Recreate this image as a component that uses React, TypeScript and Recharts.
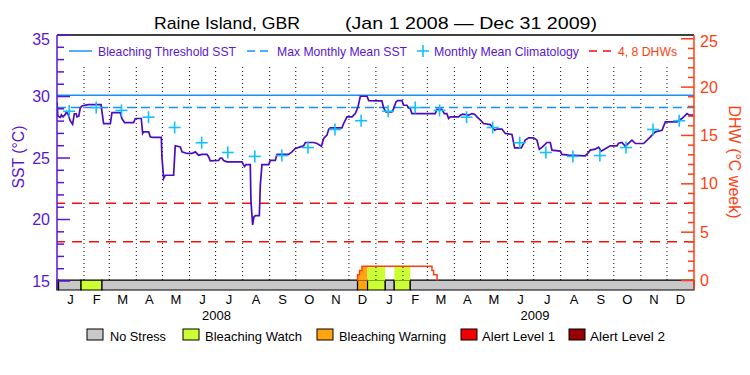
import React from "react";
import {
  ComposedChart,
  Line,
  Area,
  XAxis,
  YAxis,
  ReferenceLine,
  ReferenceArea,
} from "recharts";

const monthLetters = ["J", "F", "M", "A", "M", "J", "J", "A", "S", "O", "N", "D"];
const years = [2008, 2009];

// monthly mean climatology (same for both years), max = MMM
const climatology = [28.8, 29.1, 28.87, 28.32, 27.48, 26.24, 25.45, 25.13, 25.2, 25.85, 27.32, 28.03];
const MMM = 29.1;
const dhwLevels = [4, 8];

// SST, day index from Jan 1 2008
const sstDays = [
  0, 1, 4, 5, 7, 9, 11, 13, 15, 17.9, 19.9, 22, 23, 25, 26.7, 28.6, 33, 36, 50.5, 53.5,
  61.2, 63.1, 72.6, 74.5, 77.6, 87.9, 89.9, 96.7, 98.3, 99.4, 105.1, 107, 109.7, 119.7, 120.4,
  122.4, 124.3, 133.8, 135.7, 141.5, 143.4, 149.1, 154.9, 158.7, 162.5, 166.3, 172.1, 174, 175.9,
  185.4, 187.4, 189.3, 191.2, 195, 212.3, 214.2, 215.3, 216.9, 221.8, 222.6, 224.5, 226, 227.6,
  232.2, 233.3, 235.2, 242.9, 244.8, 250.5, 252.4, 265.8, 269.6, 273.5, 279.2, 283.1, 285, 294.6,
  298.4, 303.4, 306, 309.8, 311.7, 313.6, 327, 328.9, 332.8, 338.5, 342.3, 345.4, 348.1, 355.8,
  357.7, 372.9, 374.8, 377.5, 384.3, 386.3, 389, 390.9, 395.9, 397.7, 401.6, 403.5, 405.4, 407.3,
  434.1, 436, 441.7, 444.4, 447.4, 449.4, 451.3, 460.9, 462.8, 465.5, 472.3, 476.2, 479.2, 481.9,
  485.7, 489.5, 497.2, 502.2, 504.8, 510.6, 514.4, 522.1, 525.2, 532.8, 537.4, 541.3, 547, 550.8,
  553.5, 557.2, 562.2, 566.1, 568, 577.5, 579.4, 587.1, 606.2, 609.3, 611.9, 617.7, 621.5, 624.6,
  629.2, 634.9, 642.6, 644.5, 648.3, 652.2, 659.8, 663.7, 673.2, 681, 686.6, 694.3, 698.1, 711.5,
  714.2, 717.2, 723, 725.6, 730,
];
const sstValues = [
  29.5, 28.4, 28.3, 28.5, 28.35, 28.5, 28.75, 28.5, 28.05, 27.75, 28.6, 28.6, 28.35, 28.4, 29.07, 29.23, 29.3, 29.34, 29.34, 27.8,
  27.8, 28.69, 28.69, 28.2, 27.88, 27.88, 28.21, 28.21, 27.0, 27.13, 27.13, 26.72, 26.67, 26.67, 25.1,
  23.34, 23.6, 23.6, 26.0, 25.9, 25.5, 25.37, 25.37, 25.5, 25.23, 25.3, 25.29, 25.1, 24.77,
  24.8, 25.0, 25.0, 24.8, 24.69, 24.69, 24.42, 24.31, 24.47, 24.47, 21.45, 19.56, 20.23, 20.31,
  20.31, 22.8, 24.47, 24.47, 24.8, 24.8, 25.29, 25.29, 25.5, 25.78, 25.91, 26.0, 26.26, 26.26,
  26.18, 25.96, 26.59, 26.86, 27.32, 27.45, 27.45, 27.8, 28.34, 28.34, 28.61, 29.15, 30.02, 30.02,
  29.67, 29.64, 29.07, 28.75, 28.75, 29.02, 29.56, 29.67, 29.67, 29.29, 29.29, 29.07, 29.0, 28.61,
  28.61, 28.96, 28.96, 28.61, 28.61, 28.21, 28.34, 28.34, 28.48, 28.56, 28.48, 28.61, 28.56, 28.34,
  28.1, 27.8, 27.72, 27.26, 27.35, 27.35, 27.0, 26.91, 25.83, 25.83, 26.45, 26.64, 26.64, 26.45,
  25.7, 25.9, 26.26, 26.26, 25.64, 25.56, 25.29, 25.23, 25.18, 25.4, 25.64, 25.72, 25.88, 25.56,
  25.75, 25.99, 25.99, 26.2, 26.26, 25.96, 26.45, 26.18, 26.18, 26.72, 27.13, 27.26, 27.94, 27.94,
  28.1, 28.21, 28.61, 28.48, 28.48,
];

// degree heating weeks
const dhwDays = [344.5, 344.9, 347.2, 350, 430.3, 432.2, 436.2];
const dhwValues = [0, 0.59, 1.03, 1.48, 1.03, 0.59, 0];

// stress level bar: 0 no stress, 1 watch, 2 warning, 3 alert 1, 4 alert 2
const statusStart = [0, 1.8, 27.6, 51.6, 344.9, 356.4, 376.7, 387, 405.4];
const statusLevel = [1, 0, 1, 0, 2, 1, 0, 1, 0];

const statusNames = ["No Stress", "Bleaching Watch", "Bleaching Warning", "Alert Level 1", "Alert Level 2"];
const statusColors = ["#c8c8c8", "#ccff33", "#ffa60f", "#f00000", "#960000"];

const PURPLE = "#5a17d2";
const LINE_PURPLE = "#4a0cbf";
const ORANGE = "#ff3f12";
const BLUE = "#1a90ff";
const CYAN = "#12c0ff";
const RED = "#ee1111";
const FONT = "'Liberation Sans', Arial, sans-serif";

const TOTAL = 731;
const SST_MIN = 14.27;
const SST_MAX = 35;
const DHW_MIN = -0.98;
const DHW_MAX = 25.39;
const BAR_TOP = 15.08;
const GRID_TOP = 32.6;

const dayOf = (y: number, m: number) => (Date.UTC(y, m, 1) - Date.UTC(2008, 0, 1)) / 86400000;
const monthStarts: number[] = [];
years.forEach((y) => {
  for (let m = 0; m < 12; m++) monthStarts.push(dayOf(y, m));
});
const monthEdges = [...monthStarts, TOTAL];
const monthMids = monthStarts.map((s, i) => (s + monthEdges[i + 1]) / 2);
const yearMids = years.map((y) => (dayOf(y, 0) + dayOf(y + 1, 0)) / 2);

const sstData = sstDays.map((d, i) => ({ day: d, sst: sstValues[i] }));
const climData = monthStarts.map((s, i) => ({ day: s + 14, clim: climatology[i % 12] }));
const dhwData = dhwDays.map((d, i) => ({ day: d, dhw: dhwValues[i] }));
const gridLines = monthStarts.slice(1).map((d) => [
  { day: d, v: BAR_TOP },
  { day: d, v: GRID_TOP },
]);

const statusSegs = statusStart.map((s, i) => ({
  x1: s,
  x2: i + 1 < statusStart.length ? statusStart[i + 1] : TOTAL,
  level: statusLevel[i],
}));

function dhwAt(d: number) {
  let v = 0;
  dhwDays.forEach((x, i) => {
    if (x <= d) v = dhwValues[i];
  });
  return v;
}

// coloured fill under the DHW curve, per stress period
const dhwFills = statusSegs
  .filter((s) => s.level > 0)
  .map((s) => {
    const pts = [{ day: s.x1, v: dhwAt(s.x1) }];
    dhwDays.forEach((d, i) => {
      if (d > s.x1 && d < s.x2) pts.push({ day: d, v: dhwValues[i] });
    });
    pts.push({ day: s.x2, v: dhwAt(s.x2 - 0.01) });
    return { level: s.level, pts };
  })
  .filter((f) => f.pts.some((p) => p.v > 0));

const sstTicks = Array.from({ length: 21 }, (_, i) => 15 + i);
const dhwTicks = Array.from({ length: 26 }, (_, i) => i);

const SstTick = (props: any) => {
  const { x, y, payload } = props;
  const v = payload.value;
  const major = v % 5 === 0;
  return (
    <g>
      <line x1={x} x2={x + (major ? 13 : 7)} y1={y} y2={y} stroke={PURPLE} strokeWidth={1.5} />
      {major && (
        <text x={x - 7} y={y + (v === 35 ? 4 : 0)} dy={5.5} textAnchor="end" fill={PURPLE} fontSize={16} fontFamily={FONT}>
          {v}
        </text>
      )}
    </g>
  );
};

const DhwTick = (props: any) => {
  const { x, y, payload } = props;
  const v = payload.value;
  const major = v % 5 === 0;
  return (
    <g>
      <line x1={x} x2={x - (major ? 13 : 6)} y1={y} y2={y} stroke={ORANGE} strokeWidth={1.5} />
      {major && (
        <text x={x + 6} y={y + (v === 25 ? 3 : 0)} dy={5.5} textAnchor="start" fill={ORANGE} fontSize={16} fontFamily={FONT}>
          {v}
        </text>
      )}
    </g>
  );
};

const MonthTick = (props: any) => {
  const { x, y, index } = props;
  return (
    <text x={x} y={y + 14} textAnchor="middle" fontSize={13} fontFamily={FONT} fill="#000">
      {monthLetters[index % 12]}
    </text>
  );
};

const YearTick = (props: any) => {
  const { x, y, index } = props;
  return (
    <text x={x} y={y + 10} textAnchor="middle" fontSize={13} fontFamily={FONT} fill="#000">
      {years[index]}
    </text>
  );
};

const renderPlus = (p: any) => {
  if (p.cx == null || p.cy == null) return <g key={p.index} />;
  return (
    <g key={p.index}>
      <line x1={p.cx - 6} x2={p.cx + 6} y1={p.cy} y2={p.cy} stroke={CYAN} strokeWidth={1.6} />
      <line x1={p.cx} x2={p.cx} y1={p.cy - 6} y2={p.cy + 6} stroke={CYAN} strokeWidth={1.6} />
    </g>
  );
};

export default function App() {
  return (
    <div style={{ position: "absolute", left: 0, top: 0, width: 750, height: 375, background: "#fff" }}>
      <ComposedChart width={750} height={375} margin={{ top: 35, right: 0, bottom: 40, left: 0 }}>
        <XAxis
          xAxisId="m"
          dataKey="day"
          type="number"
          domain={[0, TOTAL]}
          allowDataOverflow
          ticks={monthMids}
          interval={0}
          tick={<MonthTick />}
          tickLine={false}
          axisLine={false}
          tickSize={0}
          tickMargin={0}
          height={20}
        />
        <XAxis
          xAxisId="y"
          dataKey="day"
          type="number"
          domain={[0, TOTAL]}
          allowDataOverflow
          ticks={yearMids}
          interval={0}
          tick={<YearTick />}
          tickLine={false}
          axisLine={false}
          tickSize={0}
          tickMargin={0}
          height={25}
        />
        <YAxis
          yAxisId="sst"
          orientation="left"
          type="number"
          domain={[SST_MIN, SST_MAX]}
          allowDataOverflow
          ticks={sstTicks}
          interval={0}
          tick={<SstTick />}
          tickLine={false}
          tickSize={0}
          tickMargin={0}
          axisLine={{ stroke: PURPLE, strokeWidth: 1.5 }}
          width={57}
        />
        <YAxis
          yAxisId="dhw"
          orientation="right"
          type="number"
          domain={[DHW_MIN, DHW_MAX]}
          allowDataOverflow
          ticks={dhwTicks}
          interval={0}
          tick={<DhwTick />}
          tickLine={false}
          tickSize={0}
          tickMargin={0}
          axisLine={{ stroke: ORANGE, strokeWidth: 1.5 }}
          width={56}
        />

        {/* month separators */}
        {gridLines.map((g, i) => (
          <Line
            key={"g" + i}
            xAxisId="m"
            yAxisId="sst"
            data={g}
            dataKey="v"
            stroke="#000"
            strokeWidth={1}
            strokeDasharray="1 3"
            dot={false}
            isAnimationActive={false}
          />
        ))}

        {/* stress level bar */}
        {statusSegs.map((s, i) => (
          <ReferenceArea
            key={"s" + i}
            xAxisId="m"
            yAxisId="sst"
            x1={s.x1}
            x2={s.x2}
            y1={SST_MIN}
            y2={BAR_TOP}
            fill={statusColors[s.level]}
            fillOpacity={1}
            stroke="#000"
            strokeWidth={1.2}
          />
        ))}

        {dhwFills.map((f, i) => (
          <Area
            key={"f" + i}
            xAxisId="m"
            yAxisId="dhw"
            data={f.pts}
            dataKey="v"
            type="stepAfter"
            baseValue={0}
            fill={statusColors[f.level]}
            fillOpacity={1}
            stroke="none"
            isAnimationActive={false}
          />
        ))}
        <Line
          xAxisId="m"
          yAxisId="dhw"
          data={dhwData}
          dataKey="dhw"
          type="stepAfter"
          stroke={ORANGE}
          strokeWidth={1.5}
          dot={false}
          isAnimationActive={false}
        />

        <ReferenceLine xAxisId="m" yAxisId="sst" y={SST_MAX} stroke="#000" strokeWidth={1.5} />
        <ReferenceLine xAxisId="m" yAxisId="sst" y={MMM + 1} stroke={BLUE} strokeWidth={1.5} />
        <ReferenceLine xAxisId="m" yAxisId="sst" y={MMM} stroke={BLUE} strokeWidth={1.5} strokeDasharray="9 5" />
        {dhwLevels.map((l) => (
          <ReferenceLine key={"d" + l} xAxisId="m" yAxisId="dhw" y={l} stroke={RED} strokeWidth={1.5} strokeDasharray="10 7" />
        ))}

        <Line
          xAxisId="m"
          yAxisId="sst"
          data={sstData}
          dataKey="sst"
          type="linear"
          stroke={LINE_PURPLE}
          strokeWidth={1.7}
          dot={false}
          isAnimationActive={false}
        />
        <Line
          xAxisId="m"
          yAxisId="sst"
          data={climData}
          dataKey="clim"
          stroke="none"
          dot={renderPlus}
          isAnimationActive={false}
        />
      </ComposedChart>

      <svg
        width={750}
        height={375}
        style={{ position: "absolute", left: 0, top: 0, pointerEvents: "none" }}
        fontFamily={FONT}
      >
        <text x={154} y={29} fontSize={17} fill="#000" textLength={146} lengthAdjust="spacingAndGlyphs">
          Raine Island, GBR
        </text>
        <text x={345} y={29} fontSize={17} fill="#000" textLength={252} lengthAdjust="spacingAndGlyphs">
          (Jan 1 2008 — Dec 31 2009)
        </text>

        <line x1={69} x2={92} y1={51} y2={51} stroke={BLUE} strokeWidth={1.5} />
        <text x={98} y={55.5} fontSize={13} fill={PURPLE} textLength={138} lengthAdjust="spacingAndGlyphs">
          Bleaching Threshold SST
        </text>
        <line x1={247} x2={269} y1={51} y2={51} stroke={BLUE} strokeWidth={1.5} strokeDasharray="8 5" />
        <text x={277} y={55.5} fontSize={13} fill={PURPLE} textLength={130} lengthAdjust="spacingAndGlyphs">
          Max Monthly Mean SST
        </text>
        <line x1={417} x2={429} y1={51} y2={51} stroke={CYAN} strokeWidth={1.6} />
        <line x1={423} x2={423} y1={45} y2={57} stroke={CYAN} strokeWidth={1.6} />
        <text x={434} y={55.5} fontSize={13} fill={PURPLE} textLength={145} lengthAdjust="spacingAndGlyphs">
          Monthly Mean Climatology
        </text>
        <line x1={589} x2={612} y1={51} y2={51} stroke={RED} strokeWidth={1.5} strokeDasharray="8 6" />
        <text x={618} y={55.5} fontSize={13} fill={ORANGE} textLength={59} lengthAdjust="spacingAndGlyphs">
          4, 8 DHWs
        </text>

        <text
          x={0}
          y={0}
          transform="translate(24,157) rotate(-90)"
          textAnchor="middle"
          fontSize={16}
          fill={PURPLE}
          textLength={63}
          lengthAdjust="spacingAndGlyphs"
        >
          SST (°C)
        </text>
        <text
          x={0}
          y={0}
          transform="translate(729,162) rotate(90)"
          textAnchor="middle"
          fontSize={16}
          fill={ORANGE}
          textLength={113}
          lengthAdjust="spacingAndGlyphs"
        >
          DHW (°C week)
        </text>

        {[87, 183, 317, 461, 569].map((bx, i) => (
          <rect key={"b" + i} x={bx} y={329} width={16} height={11} fill={statusColors[i]} stroke="#000" strokeWidth={1} />
        ))}
        {[
          [110, 56],
          [205, 97],
          [339, 107],
          [482, 73],
          [590, 75],
        ].map(([tx, tl], i) => (
          <text key={"t" + i} x={tx} y={340.5} fontSize={13.5} fill="#000" textLength={tl} lengthAdjust="spacingAndGlyphs">
            {statusNames[i]}
          </text>
        ))}
      </svg>
    </div>
  );
}
